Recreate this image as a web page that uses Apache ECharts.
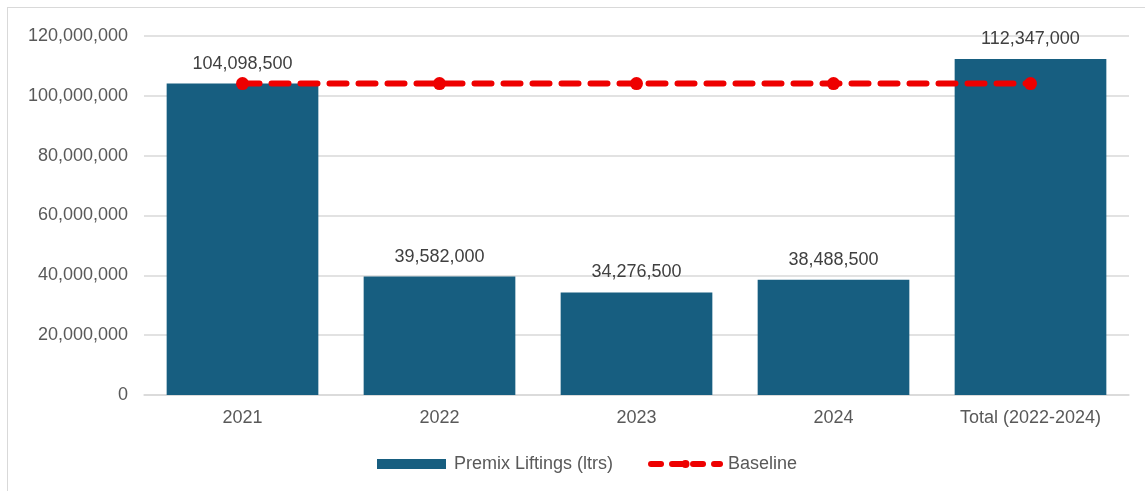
<!DOCTYPE html>
<html>
<head>
<meta charset="utf-8">
<script src="https://cdn.jsdelivr.net/npm/echarts@6/dist/echarts.min.js"></script>
<style>
html,body{margin:0;padding:0;background:#fff;}
#frame{position:absolute;left:7px;top:7px;width:1160px;height:500px;border:1.5px solid #d9d9d9;box-sizing:border-box;}
#chart{position:absolute;left:0;top:0;width:1145px;height:491px;}
</style>
</head>
<body>
<div id="frame"></div>
<div id="chart"></div>
<script>
const categories = ['2021', '2022', '2023', '2024', 'Total (2022-2024)'];
const premixLiftings = [104098500, 39582000, 34276500, 38488500, 112347000];
const baseline = [104098500, 104098500, 104098500, 104098500, 104098500];
const yTicks = { min: 0, max: 120000000, interval: 20000000 };

const fmt = v => Number(v).toLocaleString('en-US');
const font = 'Liberation Sans, Arial, sans-serif';
const red = '#EE0000';

const chart = echarts.init(document.getElementById('chart'));
chart.setOption({
  animation: false,
  textStyle: { fontFamily: font },
  grid: { left: 144, right: 16, top: 36, bottom: 96, containLabel: false },
  legend: {
    left: 372, top: 450,
    itemWidth: 69, itemHeight: 10, itemGap: 35,
    textStyle: { fontSize: 18, color: '#595959', fontFamily: font, padding: [0, 0, 0, 3] },
    data: [
      { name: 'Premix Liftings (ltrs)', icon: 'rect' },
      { name: 'Baseline',
        lineStyle: { color: red, width: 6, type: [10, 11], cap: 'round' },
        itemStyle: { color: red } }
    ]
  },
  xAxis: {
    type: 'category',
    data: categories,
    axisLine: { show: true, lineStyle: { color: '#d9d9d9', width: 1.5 } },
    axisTick: { show: false },
    axisLabel: { fontSize: 18, color: '#595959', margin: 14, fontFamily: font }
  },
  yAxis: {
    type: 'value',
    min: yTicks.min, max: yTicks.max, interval: yTicks.interval,
    axisLine: { show: false },
    axisTick: { show: false },
    splitLine: { lineStyle: { color: '#d9d9d9', width: 1.5 } },
    axisLabel: { fontSize: 18, color: '#595959', margin: 16, formatter: fmt, fontFamily: font }
  },
  series: [
    {
      name: 'Premix Liftings (ltrs)',
      type: 'bar',
      data: premixLiftings,
      barCategoryGap: '23%',
      itemStyle: { color: '#175E80' },
      label: {
        show: true, position: 'top', distance: 11,
        fontSize: 18, color: '#404040', fontFamily: font,
        formatter: p => fmt(p.value)
      }
    },
    {
      name: 'Baseline',
      type: 'line',
      data: baseline,
      symbol: 'circle',
      symbolSize: 13,
      itemStyle: { color: red },
      lineStyle: { color: red, width: 6, type: [17, 12], cap: 'round' },
      z: 5
    }
  ]
});
</script>
</body>
</html>
